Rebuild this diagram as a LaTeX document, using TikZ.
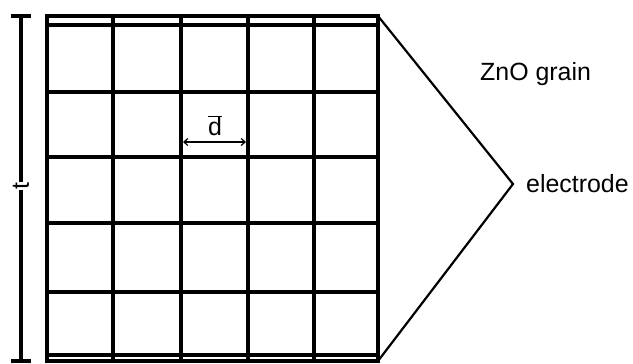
\documentclass[tikz,border=0pt]{standalone}
\usepackage{fontspec}
\setmainfont{Liberation Sans}
\usetikzlibrary{arrows.meta}
\begin{document}
\begin{tikzpicture}[x=1bp,y=-1bp,
  gridline/.style={line width=3.2bp,line cap=rect},
  leadline/.style={line width=2.2bp},
  dimline/.style={line width=3.2bp},
  lbl/.style={font=\fontsize{25}{28}\selectfont,inner sep=0pt},
  darrow/.style={line width=1.2bp,{Straight Barb[length=4bp,width=7bp]}-{Straight Barb[length=4bp,width=7bp]}}]
\useasboundingbox (0,0) rectangle (633,363);
\fill[white] (0,0) rectangle (633,363);
% electrodes
\draw[gridline] (47,16) -- (378,16);
\draw[gridline] (47,361) -- (378,361);
% grid verticals
\foreach \x in {47,113,181,248,314,378} \draw[gridline] (\x,16) -- (\x,361);
% grid horizontals
\foreach \y in {25,92,157,223,292,355} \draw[gridline] (47,\y) -- (378,\y);
% electrode leader lines
\coordinate (etop) at (378,16);
\coordinate (ebot) at (378,361);
\coordinate (tip) at (513,184);
\draw[leadline,line join=miter] (etop) -- (tip) -- (ebot);
\node[lbl,anchor=west] (electrode) at (526,184) {electrode};
\node[lbl,anchor=west] (zno) at (480,74) {ZnO grain};
% thickness dimension
\node[lbl,rotate=90] (t) at (21,186) {t};
\coordinate (ttop) at (21,16);
\coordinate (tbot) at (21,361);
\draw[dimline] (ttop) -- (t.east);
\draw[dimline] (t.west) -- (tbot);
\draw[dimline] (11,16) -- (31,16);
\draw[dimline] (11,361) -- (31,361);
% grain size
\coordinate (dl) at (183,142);
\coordinate (dr) at (246,142);
\draw[darrow] (dl) -- (dr);
\node[lbl,anchor=south] (d) at (215,136) {$\overline{\mbox{d}}$};
\end{tikzpicture}
\end{document}
